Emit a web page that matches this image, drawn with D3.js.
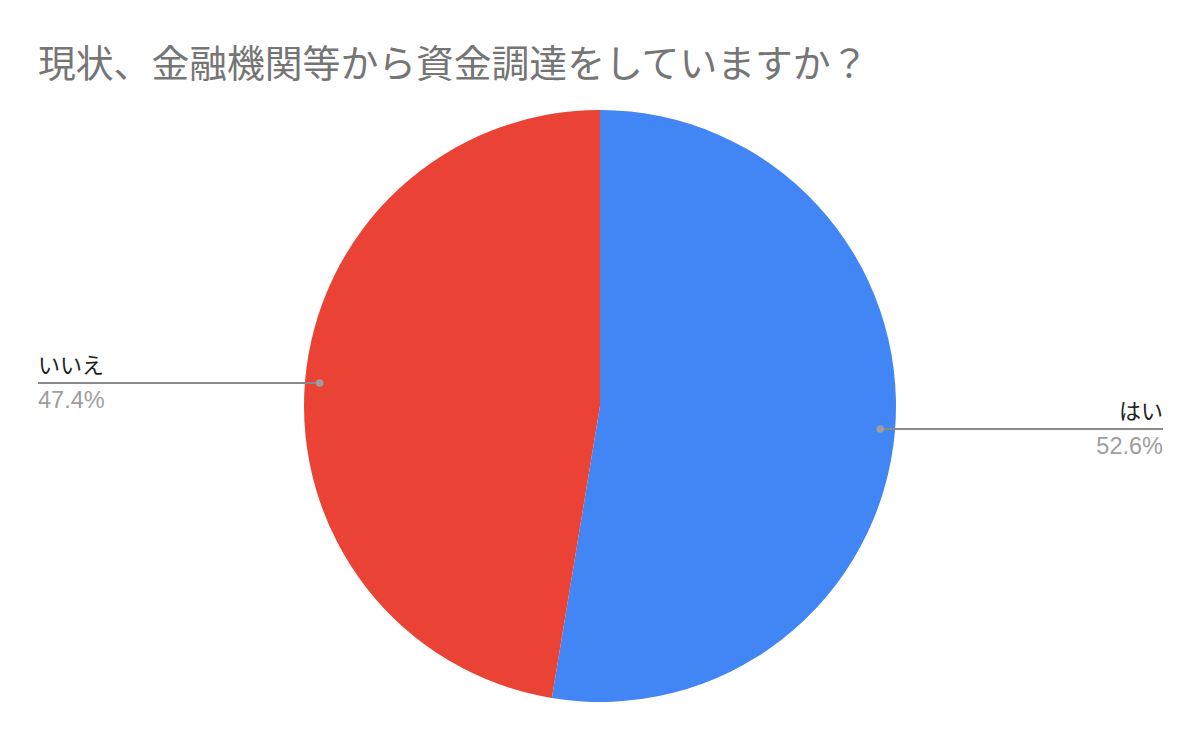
<!DOCTYPE html>
<html><head><meta charset="utf-8">
<script src="https://cdn.jsdelivr.net/npm/d3@7"></script>
<style>html,body{margin:0;padding:0;background:#fff;}</style>
</head><body>
<svg id="c" width="1200" height="740"></svg>
<script>
const title = "現状、金融機関等から資金調達をしていますか？";
const categories = ["はい", "いいえ"];
const values = [52.6, 47.4];
const colors = ["#4285f4", "#ea4335"];

const svg = d3.select("#c");
svg.append("rect").attr("width",1200).attr("height",740).attr("fill","#fff");
svg.append("text").attr("x",38).attr("y",77)
  .attr("font-family","'Noto Sans CJK JP', sans-serif").attr("font-size",37.8)
  .attr("fill","#757575").text(title);

const cx = 600, cy = 406, r = 296;
const data = categories.map((c,i)=>({name:c, value:values[i], color:colors[i]}));
const pie = d3.pie().value(d=>d.value).sort(null);
const arcs = pie(data);
const arc = d3.arc().innerRadius(0).outerRadius(r);
const g = svg.append("g").attr("transform",`translate(${cx},${cy})`);
g.selectAll("path").data(arcs).join("path").attr("d",arc).attr("fill",d=>d.data.color);

const dotR = r*0.95;
const leftX = 38, rightX = 1163;
arcs.forEach(a=>{
  const m = (a.startAngle+a.endAngle)/2;
  const px = cx + dotR*Math.sin(m), py = cy - dotR*Math.cos(m);
  const right = Math.sin(m) > 0;
  const ex = right ? rightX : leftX;
  svg.append("line").attr("x1",px).attr("y1",py).attr("x2",ex).attr("y2",py)
    .attr("stroke","#8a8a8a").attr("stroke-width",2);
  svg.append("circle").attr("cx",px).attr("cy",py).attr("r",3.8).attr("fill","#9e9e9e");
  const anchor = right ? "end" : "start";
  svg.append("text").attr("x",ex).attr("y",py-10).attr("text-anchor",anchor)
    .attr("font-family","'Noto Sans CJK JP', sans-serif").attr("font-size",22)
    .attr("fill","#222").text(a.data.name);
  svg.append("text").attr("x",ex).attr("y",py+25).attr("text-anchor",anchor)
    .attr("font-family","Arial, 'Liberation Sans', sans-serif").attr("font-size",23.5)
    .attr("fill","#9e9e9e").text(d3.format(".1f")(a.data.value/d3.sum(values)*100)+"%");
});
</script>
</body></html>
